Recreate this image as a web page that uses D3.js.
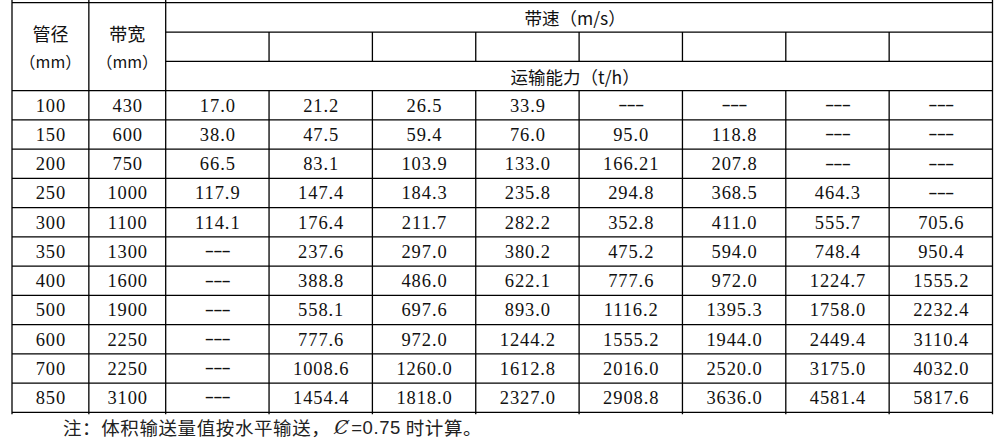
<!DOCTYPE html>
<html><head><meta charset="utf-8">
<script src="https://cdn.jsdelivr.net/npm/d3@7/dist/d3.min.js"></script>
<style>
html,body{margin:0;padding:0;background:#fff;}
svg{display:block;}
</style>
</head><body>
<div id="chart"></div>
<script>
// ---- data ----
const leftHeaders = [["管径", "（mm）"], ["带宽", "（mm）"]];
const speedTitle = "带速（m/s）";
const capacityTitle = "运输能力（t/h）";
const speedLabels = ["", "", "", "", "", "", "", ""];
const pipeDiameters = [100, 150, 200, 250, 300, 350, 400, 500, 600, 700, 850];
const beltWidths = [430, 600, 750, 1000, 1100, 1300, 1600, 1900, 2250, 2250, 3100];
const cap100 = [17.0, 21.2, 26.5, 33.9, null, null, null, null];
const cap150 = [38.0, 47.5, 59.4, 76.0, 95.0, 118.8, null, null];
const cap200 = [66.5, 83.1, 103.9, 133.0, 166.21, 207.8, null, null];
const cap250 = [117.9, 147.4, 184.3, 235.8, 294.8, 368.5, 464.3, null];
const cap300 = [114.1, 176.4, 211.7, 282.2, 352.8, 411.0, 555.7, 705.6];
const cap350 = [null, 237.6, 297.0, 380.2, 475.2, 594.0, 748.4, 950.4];
const cap400 = [null, 388.8, 486.0, 622.1, 777.6, 972.0, 1224.7, 1555.2];
const cap500 = [null, 558.1, 697.6, 893.0, 1116.2, 1395.3, 1758.0, 2232.4];
const cap600 = [null, 777.6, 972.0, 1244.2, 1555.2, 1944.0, 2449.4, 3110.4];
const cap700 = [null, 1008.6, 1260.0, 1612.8, 2016.0, 2520.0, 3175.0, 4032.0];
const cap850 = [null, 1454.4, 1818.0, 2327.0, 2908.8, 3636.0, 4581.4, 5817.6];
const capacities = [cap100, cap150, cap200, cap250, cap300, cap350, cap400, cap500, cap600, cap700, cap850];
const noteParts = ["注：体积输送量值按水平输送，", "Ȼ", "=0.75", " 时计算。"];

// ---- layout ----
const W = 1003, H = 442;
const svg = d3.select("#chart").append("svg").attr("width", W).attr("height", H);
svg.append("rect").attr("width", W).attr("height", H).attr("fill", "#fff");

const xLeft = d3.scaleBand().domain([0, 1]).range([12, 165.7]);
const xSpeed = d3.scaleBand().domain(d3.range(speedLabels.length)).range([165.7, 992.5]);
const yHead = d3.scaleBand().domain([0, 1, 2]).range([2.7, 90.7]);
const yRow = d3.scaleBand().domain(d3.range(pipeDiameters.length)).range([90.7, 412.3]);

const CJK = "'Noto Sans CJK SC','Noto Sans',sans-serif";
const NUM = "'Liberation Serif','DejaVu Serif',serif";
const fmt = v => v == null ? "---" :
  (Math.abs(Math.round(v * 10) - v * 10) < 1e-6 ? v.toFixed(1) : String(v));

const lines = svg.append("g").attr("stroke", "#000").attr("stroke-width", 1.3);
const x0 = xLeft.range()[0], x1 = xSpeed.range()[1];
const yTop = yHead.range()[0], yBot = yRow.range()[1];
// horizontal lines
lines.append("line").attr("x1", x0).attr("x2", x1).attr("y1", yTop).attr("y2", yTop);
[1, 2].forEach(i => lines.append("line").attr("x1", xSpeed.range()[0]).attr("x2", x1)
  .attr("y1", yHead(i)).attr("y2", yHead(i)));
d3.range(pipeDiameters.length).forEach(i => lines.append("line").attr("x1", x0).attr("x2", x1)
  .attr("y1", yRow(i)).attr("y2", yRow(i)));
lines.append("line").attr("x1", x0).attr("x2", x1).attr("y1", yBot).attr("y2", yBot);
// vertical lines
const fullV = [x0, xLeft(1), xSpeed.range()[0], x1];
fullV.forEach(x => lines.append("line").attr("x1", x).attr("x2", x).attr("y1", 0).attr("y2", yBot + 2));
d3.range(1, speedLabels.length).forEach(i => {
  const x = xSpeed(i);
  lines.append("line").attr("x1", x).attr("x2", x).attr("y1", yHead(1)).attr("y2", yHead(2));
  lines.append("line").attr("x1", x).attr("x2", x).attr("y1", yRow(0)).attr("y2", yBot + 2);
});

// header text
const txt = svg.append("g").attr("fill", "#111");
leftHeaders.forEach((pair, i) => {
  const cx = xLeft(i) + xLeft.bandwidth() / 2;
  txt.append("text").attr("x", cx).attr("y", 33).attr("text-anchor", "middle")
    .attr("dominant-baseline", "central").style("font-family", CJK).style("font-size", "18px").text(pair[0]);
  txt.append("text").attr("x", cx).attr("y", 61).attr("text-anchor", "middle")
    .attr("dominant-baseline", "central").style("font-family", CJK).style("font-size", "16px").text(pair[1]);
});
const sCx = (xSpeed.range()[0] + x1) / 2 - 4;
txt.append("text").attr("x", sCx).attr("y", yHead(0) + yHead.bandwidth() / 2).attr("text-anchor", "middle")
  .attr("dominant-baseline", "central").style("font-family", CJK).style("font-size", "17.5px").text(speedTitle);
txt.append("text").attr("x", sCx).attr("y", yHead(2) + yHead.bandwidth() / 2).attr("text-anchor", "middle")
  .attr("dominant-baseline", "central").style("font-family", CJK).style("font-size", "17.5px").text(capacityTitle);
speedLabels.forEach((s, i) => txt.append("text").attr("x", xSpeed(i) + xSpeed.bandwidth() / 2)
  .attr("y", yHead(1) + yHead.bandwidth() / 2).attr("text-anchor", "middle")
  .attr("dominant-baseline", "central").style("font-family", NUM).style("font-size", "18px").text(s));

// body
function cell(x, i, s) {
  const yb = yRow(i) + yRow.bandwidth() / 2 + 6.4;
  if (s === "---") {
    return txt.append("text").attr("transform", `translate(${x},${yb - 1.6}) scale(1.5,1)`)
      .attr("text-anchor", "middle").style("font-family", NUM).style("font-size", "18.5px")
      .style("letter-spacing", "-0.6px").text(s);
  }
  return txt.append("text").attr("x", x + 0.45).attr("y", yb)
    .attr("text-anchor", "middle").style("font-family", NUM).style("font-size", "18.5px")
    .style("letter-spacing", "0.9px").text(s);
}
pipeDiameters.forEach((d, i) => {
  cell(xLeft(0) + xLeft.bandwidth() / 2, i, String(d));
  cell(xLeft(1) + xLeft.bandwidth() / 2, i, String(beltWidths[i]));
  capacities[i].forEach((v, j) => cell(xSpeed(j) + xSpeed.bandwidth() / 2, i, fmt(v)));
});

// note
const note = svg.append("text").attr("x", 63).attr("y", 427).attr("dominant-baseline", "central")
  .attr("fill", "#222").style("font-family", CJK).style("font-size", "18.5px").style("letter-spacing", "0.6px");
note.append("tspan").text(noteParts[0]);
note.append("tspan").attr("dx", 4).style("font-family", "'DejaVu Serif',serif").style("font-style", "italic").text(noteParts[1]);
note.append("tspan").attr("dx", 2).style("font-family", "'Liberation Sans',sans-serif").text(noteParts[2]);
note.append("tspan").text(noteParts[3]);
</script>
</body></html>
